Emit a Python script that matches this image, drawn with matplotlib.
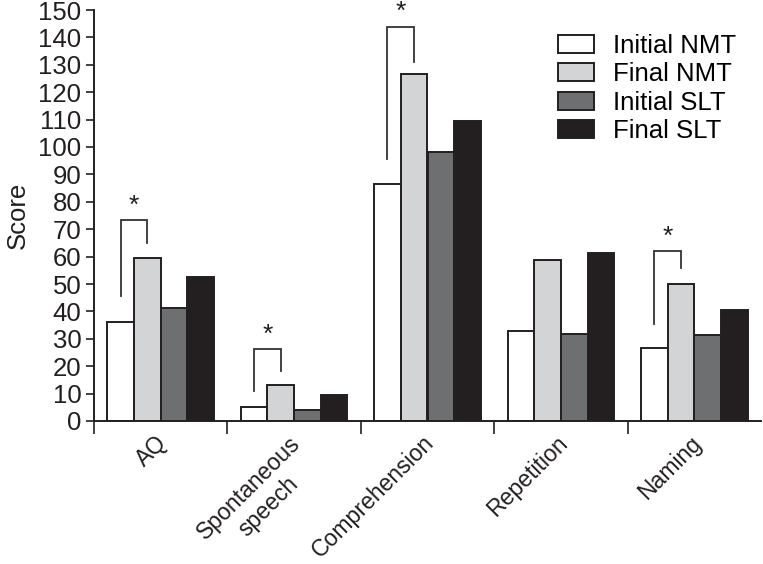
import matplotlib
matplotlib.use("Agg")
import matplotlib.pyplot as plt
import matplotlib.transforms as mtransforms
import numpy as np

plt.rcParams['font.family'] = ['Liberation Sans', 'DejaVu Sans']

categories = ["AQ", "Spontaneous\nspeech", "Comprehension", "Repetition", "Naming"]
series_names = ["Initial NMT", "Final NMT", "Initial SLT", "Final SLT"]
initial_nmt = [36.2, 5.2, 86.5, 32.8, 26.7]
final_nmt = [59.6, 13.2, 126.8, 58.6, 50.1]
initial_slt = [41.4, 3.9, 98.0, 31.9, 31.3]
final_slt = [52.7, 9.6, 109.6, 61.4, 40.5]
# significance brackets: (left leg bottom, top, right leg bottom)
sig_left = [45.5, 11.0, 95.7, None, 35.3]
sig_top = [73.2, 26.2, 143.9, None, 62.0]
sig_right = [64.8, 18.3, 131.0, None, 55.7]

colors = ["#ffffff", "#d3d4d6", "#6e6f71", "#231f20"]
edge = "#231f20"
FS = 18.5

fig = plt.figure(figsize=(7.63, 5.64), dpi=100)
ax = fig.add_axes([94/763, (564-421)/564, 667/763, 411/564])

x = np.arange(len(categories))
width = 0.2
offsets = [-0.3, -0.1, 0.1, 0.3]
for vals, off, col, name in zip([initial_nmt, final_nmt, initial_slt, final_slt], offsets, colors, series_names):
    ax.bar(x + off, vals, width, color=col, edgecolor=edge, linewidth=1.4, label=name)

for i in range(len(categories)):
    if sig_top[i] is None:
        continue
    xl = x[i] - 0.3
    xr = x[i] - 0.1
    ax.plot([xl, xl, xr, xr], [sig_left[i], sig_top[i], sig_top[i], sig_right[i]],
            color="#333333", lw=1.3, solid_joinstyle='miter')
    ax.text((xl + xr) / 2, sig_top[i] + 1.0, "*", ha='center', va='bottom', fontsize=19, color="#231f20")

ax.set_xlim(-0.5, 4.5)
ax.set_ylim(0, 150)
ax.set_yticks(np.arange(0, 151, 10))
ax.tick_params(axis='y', labelsize=FS, length=6, width=1.2, direction='out', colors="#231f20", pad=3)
ax.set_xticks(x)
ax.set_xticklabels(categories, rotation=45, ha='right', rotation_mode='anchor', fontsize=16.6,
                   multialignment='center')
ax.tick_params(axis='x', length=0, pad=7.5, colors="#231f20")
shift = mtransforms.ScaledTranslation(-5/100, 0, fig.dpi_scale_trans)
for lab in ax.get_xticklabels():
    lab.set_transform(lab.get_transform() + shift)
ax.set_xticks(np.arange(-0.5, 4.0, 1.0), minor=True)
ax.tick_params(axis='x', which='minor', length=9, width=1.2, direction='out', colors="#231f20")

for s in ['top', 'right']:
    ax.spines[s].set_visible(False)
for s in ['left', 'bottom']:
    ax.spines[s].set_linewidth(1.4)
    ax.spines[s].set_color("#231f20")

ax.set_ylabel("Score", fontsize=FS, color="#231f20", labelpad=6)

leg = ax.legend(loc='upper right', bbox_to_anchor=(0.998, 0.997), frameon=False, fontsize=FS,
                handlelength=1.4, handleheight=0.7, labelspacing=0.16, handletextpad=0.75)

fig.savefig("out.png", dpi=100)
